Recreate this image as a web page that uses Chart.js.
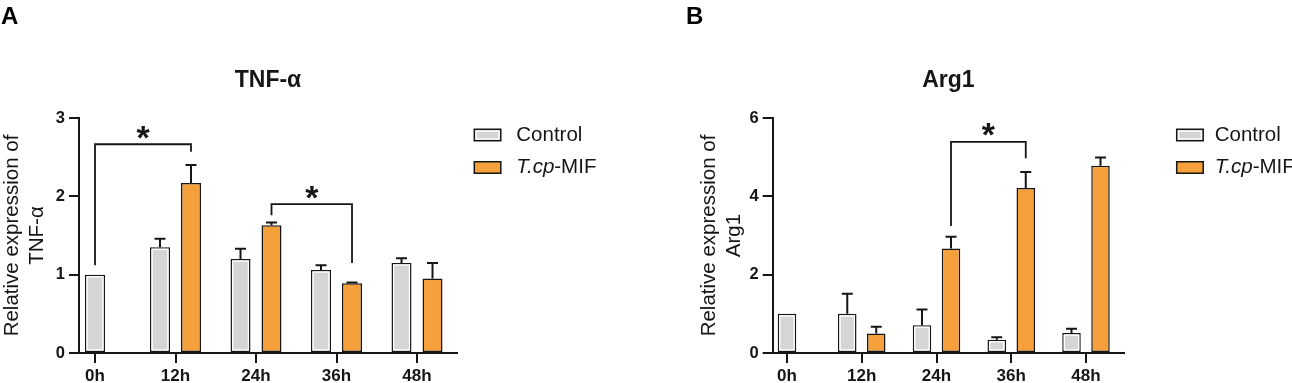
<!DOCTYPE html>
<html><head><meta charset="utf-8">
<script src="https://cdn.jsdelivr.net/npm/chart.js@4.4.1/dist/chart.umd.min.js"></script>
<style>
html,body{margin:0;padding:0;background:#fff;width:1292px;height:383px;overflow:hidden}
#ca{position:absolute;left:0;top:0}
#cb{position:absolute;left:680px;top:0}
</style></head><body>
<canvas id="ca" width="680" height="383"></canvas>
<canvas id="cb" width="612" height="383"></canvas>
<script>
// ---- data ----
const hours = [0, 12, 24, 36, 48];
const timeLabels = ['0h', '12h', '24h', '36h', '48h'];
const seriesNames = ['Control', 'T.cp-MIF'];
const italicPrefix = 'T.cp';

const tnfControl    = [1.00, 1.35, 1.20, 1.06, 1.15];
const tnfControlErr = [0,    0.11, 0.13, 0.06, 0.06];
const tnfMif        = [null, 2.17, 1.63, 0.89, 0.95];
const tnfMifErr     = [null, 0.23, 0.035, 0.01, 0.20];
const tnfTicks      = [0, 1, 2, 3];

const argControl    = [1.00, 1.00, 0.71, 0.34, 0.51];
const argControlErr = [0,    0.51, 0.40, 0.06, 0.11];
const argMif        = [null, 0.50, 2.67, 4.21, 4.78];
const argMifErr     = [null, 0.17, 0.30, 0.41, 0.21];
const argTicks      = [0, 2, 4, 6];

// significance brackets: ends as [datasetIndex, dataIndex]; heights in data units
const tnfSig = [
  {from: [0, 0], to: [1, 1], top: 2.665, leftEnd: 1.12, rightEnd: 2.57, mark: '*'},
  {from: [1, 2], to: [1, 3], top: 1.90,  leftEnd: 1.76, rightEnd: 1.15, mark: '*'}
];
const argSig = [
  {from: [1, 2], to: [1, 3], top: 5.39, leftEnd: 3.24, rightEnd: 4.97, mark: '*'}
];

// ---- style ----
const FONT = '"Liberation Sans", Arial, Helvetica, sans-serif';
const DARK = '#161616';
const GREY = '#d5d5d5';
const ORANGE = '#f5a03a';

const extras = {
  id: 'extras',
  afterDraw(chart, args, o) {
    const ctx = chart.ctx, ys = chart.scales.y;
    ctx.save();
    chart.data.datasets.forEach((ds, di) => {
      const meta = chart.getDatasetMeta(di);
      meta.data.forEach((bar, i) => {
        const v = ds.data[i].y;
        if (v == null) return;
        const p = bar.getProps(['x', 'y', 'base', 'width'], true);
        if (ds.innerBand) {
          const inset = ds.borderWidth + 0.6;
          ctx.strokeStyle = '#ffffff'; ctx.lineWidth = 1.3;
          ctx.strokeRect(p.x - p.width / 2 + inset, p.y + inset, p.width - 2 * inset, p.base - p.y - 2 * inset);
        }
        const e = ds.errors[i];
        if (e) {
          const yt = ys.getPixelForValue(v + e);
          ctx.strokeStyle = DARK; ctx.lineWidth = 2;
          ctx.beginPath();
          ctx.moveTo(p.x, p.y); ctx.lineTo(p.x, yt);
          ctx.moveTo(p.x - o.capHalf, yt); ctx.lineTo(p.x + o.capHalf, yt);
          ctx.stroke();
        }
      });
    });
    (o.sig || []).forEach(s => {
      const xa = chart.getDatasetMeta(s.from[0]).data[s.from[1]].x;
      const xb = chart.getDatasetMeta(s.to[0]).data[s.to[1]].x;
      const yt = ys.getPixelForValue(s.top);
      const yl = ys.getPixelForValue(s.leftEnd);
      const yr = ys.getPixelForValue(s.rightEnd);
      ctx.strokeStyle = DARK; ctx.lineWidth = 1.8;
      ctx.beginPath();
      ctx.moveTo(xa, yl); ctx.lineTo(xa, yt); ctx.lineTo(xb, yt); ctx.lineTo(xb, yr);
      ctx.stroke();
      ctx.font = 'bold 34px ' + FONT;
      ctx.textAlign = 'center'; ctx.textBaseline = 'alphabetic'; ctx.fillStyle = DARK;
      ctx.fillText(s.mark, (xa + xb) / 2, yt - 15 + 0.57 * 34);
    });
    chart.data.datasets.forEach((ds, di) => {
      const cy = o.legendY + di * o.legendGap;
      const bw = 26.5, bh = 11.5;
      ctx.fillStyle = ds.backgroundColor;
      ctx.fillRect(o.legendX, cy - bh / 2, bw, bh);
      ctx.strokeStyle = DARK; ctx.lineWidth = 1.5;
      ctx.strokeRect(o.legendX, cy - bh / 2, bw, bh);
      if (ds.innerBand) {
        ctx.strokeStyle = '#ffffff'; ctx.lineWidth = 1.3;
        ctx.strokeRect(o.legendX + 1.9, cy - bh / 2 + 1.9, bw - 3.8, bh - 3.8);
      }
      let parts = [[ds.label, false]];
      if (ds.label.startsWith(italicPrefix)) parts = [[italicPrefix, true], [ds.label.slice(italicPrefix.length), false]];
      let tx = o.legendTextX;
      ctx.textAlign = 'left'; ctx.textBaseline = 'middle'; ctx.fillStyle = DARK;
      parts.forEach(([t, it]) => {
        ctx.font = (it ? 'italic ' : '') + '20.5px ' + FONT;
        ctx.fillText(t, tx, cy);
        tx += ctx.measureText(t).width;
      });
    });
    ctx.font = 'bold 24px ' + FONT;
    ctx.textAlign = 'left'; ctx.textBaseline = 'alphabetic'; ctx.fillStyle = '#000';
    ctx.fillText(o.panel, o.panelX, 24);
    ctx.restore();
  }
};

function makeChart(id, c) {
  const axisGrid = {display: true, offset: false, drawOnChartArea: false, drawTicks: true, tickLength: 10, color: DARK, lineWidth: 2};
  const axisBorder = {display: true, color: DARK, width: 2};
  const xFont = {family: FONT, size: 17, weight: 'bold'};
  const yFont = {family: FONT, size: 16.5, weight: 'bold'};
  const barCommon = {borderColor: DARK, borderWidth: 1.5, borderSkipped: false, skipNull: true,
    categoryPercentage: c.catPct, barPercentage: 0.9, maxBarThickness: c.barW};
  return new Chart(document.getElementById(id), {
    type: 'bar',
    data: {datasets: [
      Object.assign({label: seriesNames[0], data: hours.map((h, i) => ({x: h, y: c.control[i]})),
        errors: c.controlErr, backgroundColor: GREY, innerBand: true}, barCommon),
      Object.assign({label: seriesNames[1], data: hours.map((h, i) => ({x: h, y: c.mif[i]})),
        errors: c.mifErr, backgroundColor: ORANGE}, barCommon)
    ]},
    options: {
      responsive: false, animation: false,
      layout: {padding: {left: c.padLeft, right: c.padRight, top: 0, bottom: 0}},
      plugins: {
        legend: {display: false}, tooltip: {enabled: false},
        title: {display: true, text: c.gene, fullSize: false, color: DARK,
          font: {family: FONT, size: 23, weight: 'bold', lineHeight: 1.2},
          padding: {top: 66.7, bottom: 23.7}},
        extras: {sig: c.sig, capHalf: 5.5, legendX: c.legendX, legendTextX: c.legendTextX,
          legendY: 135, legendGap: 32.5, panel: c.panel, panelX: c.panelX}
      },
      scales: {
        x: {type: 'linear', offset: false, min: c.xMin, max: c.xMax,
          afterBuildTicks: s => { s.ticks = hours.map(v => ({value: v})); },
          afterFit: s => { s.height = 30; },
          grid: axisGrid, border: axisBorder,
          ticks: {callback: v => timeLabels[hours.indexOf(v)], font: xFont, color: DARK,
            padding: 3, maxRotation: 0, autoSkip: false}},
        y: {min: 0, max: c.yMax,
          afterBuildTicks: s => { s.ticks = c.yTicks.map(v => ({value: v})); },
          afterFit: s => { s.width = c.yWidth; },
          grid: axisGrid, border: axisBorder,
          ticks: {font: yFont, color: DARK, padding: 4},
          title: {display: true, text: ['Relative expression of', c.gene], color: DARK,
            font: {family: FONT, size: 20.5, lineHeight: 1.2}, padding: {top: 0, bottom: 0}}}
      }
    },
    plugins: [extras]
  });
}

makeChart('ca', {gene: 'TNF-α', control: tnfControl, controlErr: tnfControlErr, mif: tnfMif, mifErr: tnfMifErr,
  yMax: 3, yTicks: tnfTicks, sig: tnfSig, padLeft: 0, padRight: 223, yWidth: 79,
  xMin: -2.385, xMax: 53.96, catPct: 0.770, barW: 20,
  legendX: 474.3, legendTextX: 516.3, panel: 'A', panelX: 1});

makeChart('cb', {gene: 'Arg1', control: argControl, controlErr: argControlErr, mif: argMif, mifErr: argMifErr,
  yMax: 6, yTicks: argTicks, sig: argSig, padLeft: 17, padRight: 168, yWidth: 75.7,
  xMin: -2.296, xMax: 54.1, catPct: 0.776, barW: 18.5,
  legendX: 496.7, legendTextX: 534.7, panel: 'B', panelX: 6});
</script>
</body></html>
